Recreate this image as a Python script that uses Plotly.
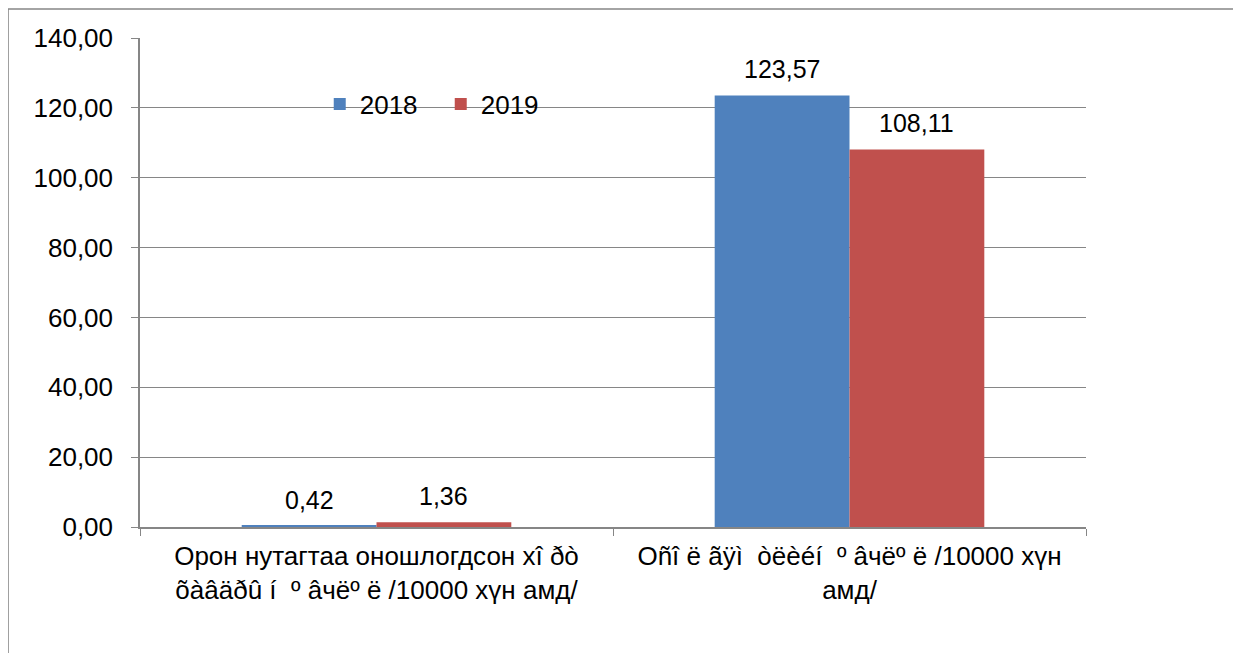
import plotly.graph_objects as go

categories = [
    "Орон нутагтаа оношлогдсон хî ðò<br>õàâäðû í  º âчëº ë /10000 хүн амд/",
    "Oñî ë ãÿì  òëèéí  º âчëº ë /10000 хүн<br>амд/",
]
years = ["2018", "2019"]
values_2018 = [0.42, 123.57]
values_2019 = [1.36, 108.11]
y_ticks = [0, 20, 40, 60, 80, 100, 120, 140]

colors = {"2018": "#4F81BD", "2019": "#C0504D"}
grey = "#868686"
fsize = 26

fig = go.Figure()
for yr, vals in zip(years, [values_2018, values_2019]):
    fig.add_trace(go.Bar(
        x=categories,
        y=vals,
        name=yr,
        marker=dict(color=colors[yr], line=dict(width=0)),
        cliponaxis=False,
    ))

# data labels sit a little higher above the bars than plotly's "outside" text
bargap = 0.43
plot_w = 946
half = plot_w / len(categories) * (1 - bargap) / 4
for shift, vals in zip([-half, half], [values_2018, values_2019]):
    for cat, v in zip(categories, vals):
        fig.add_annotation(
            x=cat, y=v, xref="x", yref="y",
            text=f"{v:.2f}".replace(".", ","),
            showarrow=False,
            xshift=shift, yshift=26,
            yanchor="middle",
            font=dict(size=25, color="black"),
        )

# page body has an 8px margin, so the figure starts at (8, 8)
fig.update_layout(
    width=1241,
    height=653,
    barmode="group",
    bargap=bargap,
    bargroupgap=0,
    separators=", ",
    plot_bgcolor="white",
    paper_bgcolor="white",
    font=dict(family="Liberation Sans, Arial, sans-serif", size=fsize, color="black"),
    margin=dict(l=132, r=163, t=30, b=134),
    legend=dict(
        orientation="h",
        x=0.19, y=0.865,
        xanchor="left", yanchor="middle",
        bgcolor="rgba(0,0,0,0)",
        font=dict(size=fsize),
        itemwidth=30,
        entrywidth=76,
    ),
    showlegend=True,
)

fig.update_xaxes(
    showline=True,
    linecolor=grey,
    linewidth=1.5,
    ticks="outside",
    tickson="boundaries",
    ticklen=7,
    tickcolor=grey,
    ticklabelstandoff=5,
    showgrid=False,
    tickfont=dict(size=fsize),
)

fig.update_yaxes(
    range=[0, 140],
    tickvals=y_ticks,
    tickformat=".2f",
    showline=True,
    linecolor=grey,
    linewidth=1.5,
    ticks="outside",
    ticklen=7,
    tickcolor=grey,
    ticklabelstandoff=13,
    showgrid=True,
    gridcolor=grey,
    gridwidth=1,
    zeroline=False,
    tickfont=dict(size=fsize),
)

# outer chart frame (runs past the right and bottom of the picture)
fig.add_shape(
    type="rect", xref="paper", yref="paper",
    x0=-0.1395, x1=1.3, y0=-0.4, y1=1.0593,
    line=dict(color=grey, width=1.5),
    fillcolor="rgba(0,0,0,0)",
    layer="below",
)

fig.write_html("out.html")
